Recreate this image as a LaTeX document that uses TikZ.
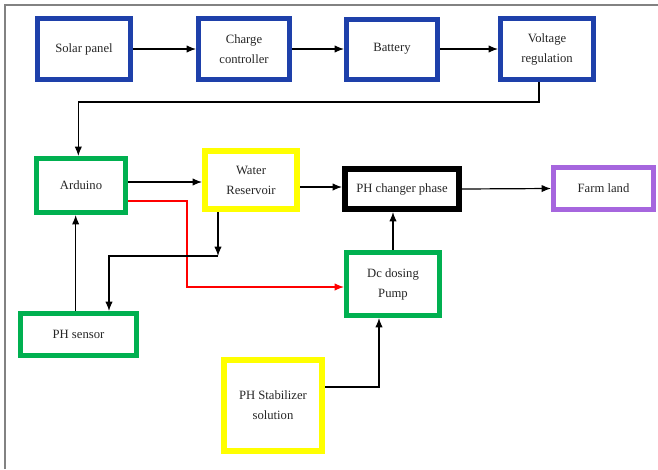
\documentclass[tikz,border=0pt]{standalone}
\usepackage{fontspec}
\setmainfont{Liberation Serif}
\usetikzlibrary{arrows.meta}

\definecolor{blueb}{RGB}{30,64,170}
\definecolor{greenb}{RGB}{0,176,80}
\definecolor{yellowb}{RGB}{255,255,0}
\definecolor{purpleb}{RGB}{166,102,222}
\definecolor{framegray}{RGB}{130,130,130}

\tikzset{
  blk/.style={rectangle, draw, line width=3.75pt, align=center, inner sep=0pt,
    font=\fontsize{9.5}{15}\selectfont, text=black!85},
  link/.style={line width=0.9pt, -{Latex[length=7pt,width=5.5pt]}}
}

\begin{document}
\begin{tikzpicture}[x=0.75pt,y=-0.75pt]
    \useasboundingbox (0,0) rectangle (658,469);
    \fill[white] (0,0) rectangle (658,469);
    \draw[framegray, line width=1.5pt] (5,469) -- (5,5) -- (658,5);

    % top row
    \node[blk, draw=blueb, minimum width=69.75pt, minimum height=45.75pt] (sol) at (84,49) {Solar panel};
    \node[blk, draw=blueb, minimum width=68.25pt, minimum height=45.75pt] (chg) at (244,49) {Charge\\controller};
    \node[blk, draw=blueb, minimum width=68.25pt, minimum height=45pt] (bat) at (392,49) {Battery};
    \node[blk, draw=blueb, minimum width=69.75pt, minimum height=45.75pt] (vol) at (547,49) {Voltage\\regulation};

    % middle row
    \node[blk, draw=greenb, minimum width=66.75pt, minimum height=40.5pt] (ard) at (81,185.5) {Arduino};
    \node[blk, draw=yellowb, line width=4.5pt, minimum width=69pt, minimum height=43.5pt] (wat) at (251,180) {Water\\Reservoir};
    \node[blk, draw=black, line width=4.5pt, minimum width=85.5pt, minimum height=30pt] (phc) at (402,189) {PH changer phase};
    \node[blk, draw=purpleb, minimum width=75pt, minimum height=31.5pt] (frm) at (603.5,188.5) {Farm land};

    % lower part
    \node[blk, draw=greenb, minimum width=69.75pt, minimum height=47.25pt] (dcp) at (393,284) {Dc dosing\\Pump};
    \node[blk, draw=greenb, minimum width=87pt, minimum height=31.5pt] (phs) at (78.5,334.5) {PH sensor};
    \node[blk, draw=yellowb, line width=4.5pt, minimum width=73.5pt, minimum height=68.25pt] (stb) at (273,405.5) {PH Stabilizer\\solution};

    \coordinate (k1) at (539,102);
    \coordinate (r1) at (187,201);
    \coordinate (r2) at (187,287);
    \coordinate (w1) at (218,256);
    \coordinate (w2) at (109,256);
    \coordinate (s1) at (379,387);

    \draw[link] (sol.east) -- (chg.west);
    \draw[link] (chg.east) -- (bat.west);
    \draw[link] (bat.east) -- (vol.west);
    \draw[link] (vol.south -| k1) -- (k1) -| ([xshift=-2pt]ard.north);
    \draw[link] (ard.east |- 0,182) -- (wat.west |- 0,182);
    \draw[link] (wat.east |- 0,187) -- (phc.west |- 0,187);
    \draw[link] (phc.east) -- (frm.west);
    \draw[link, red] (ard.east |- r1) -- (r1) -- (r2) -- (dcp.west |- r2);
    \draw[link] (wat.south -| w1) -- (w1);
    \draw[link] (w1) -- (w2) -- (phs.north -| w2);
    \draw[link] ([xshift=-4pt]ard.south |- phs.north) -- ([xshift=-4pt]ard.south);
    \draw[link] (dcp.north) -- (dcp.north |- phc.south);
    \draw[link] (stb.east |- s1) -- (s1) -- (s1 |- dcp.south);
  \end{tikzpicture}
\end{document}
